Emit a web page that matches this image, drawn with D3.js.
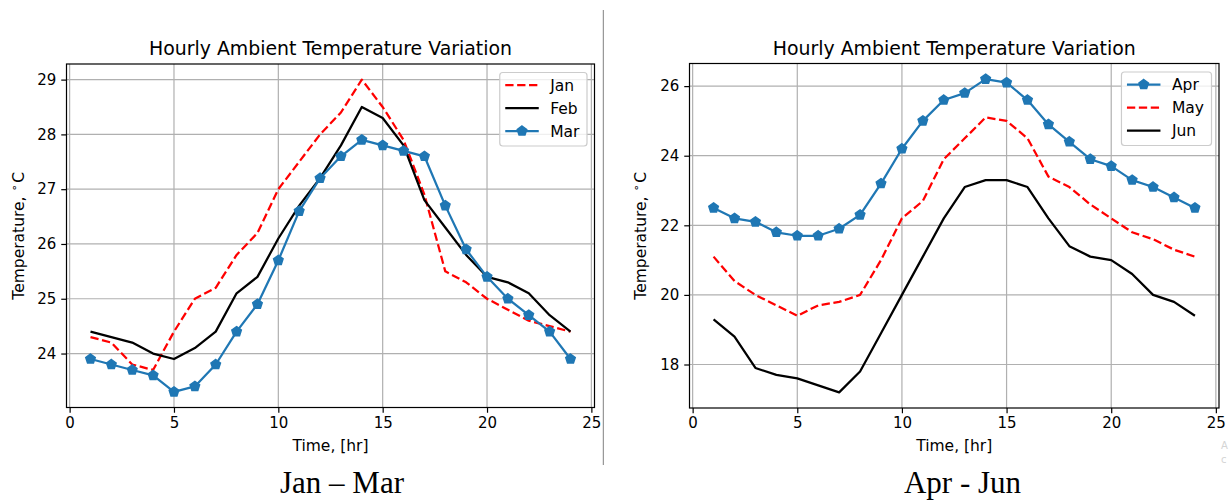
<!DOCTYPE html>
<html>
<head>
<meta charset="utf-8">
<script src="https://cdn.jsdelivr.net/npm/d3@7"></script>
<style>
  html, body { margin: 0; padding: 0; background: #ffffff; }
  svg { display: block; }
</style>
</head>
<body>
<svg id="chart" width="1230" height="502"></svg>
<script>
// ---------------- DATA ----------------
const hours = d3.range(1, 25);
const jan = [24.3, 24.2, 23.8, 23.7, 24.4, 25.0, 25.2, 25.8, 26.2, 27.0, 27.5, 28.0, 28.4, 29.0, 28.5, 27.9, 26.9, 25.5, 25.3, 25.0, 24.8, 24.6, 24.5, 24.4];
const feb = [24.4, 24.3, 24.2, 24.0, 23.9, 24.1, 24.4, 25.1, 25.4, 26.1, 26.7, 27.2, 27.8, 28.5, 28.3, 27.8, 26.8, 26.3, 25.8, 25.4, 25.3, 25.1, 24.7, 24.4];
const mar = [23.9, 23.8, 23.7, 23.6, 23.3, 23.4, 23.8, 24.4, 24.9, 25.7, 26.6, 27.2, 27.6, 27.9, 27.8, 27.7, 27.6, 26.7, 25.9, 25.4, 25.0, 24.7, 24.4, 23.9];
const apr = [22.5, 22.2, 22.1, 21.8, 21.7, 21.7, 21.9, 22.3, 23.2, 24.2, 25.0, 25.6, 25.8, 26.2, 26.1, 25.6, 24.9, 24.4, 23.9, 23.7, 23.3, 23.1, 22.8, 22.5];
const may = [21.1, 20.4, 20.0, 19.7, 19.4, 19.7, 19.8, 20.0, 21.0, 22.2, 22.7, 23.9, 24.5, 25.1, 25.0, 24.5, 23.4, 23.1, 22.6, 22.2, 21.8, 21.6, 21.3, 21.1];
const jun = [19.3, 18.8, 17.9, 17.7, 17.6, 17.4, 17.2, 17.8, 18.9, 20.0, 21.1, 22.2, 23.1, 23.3, 23.3, 23.1, 22.2, 21.4, 21.1, 21.0, 20.6, 20.0, 19.8, 19.4];

const xTicks = [0, 5, 10, 15, 20, 25];
const leftYTicks = [24, 25, 26, 27, 28, 29];
const rightYTicks = [18, 20, 22, 24, 26];
const chartTitle = "Hourly Ambient Temperature Variation";
const xLabel = "Time, [hr]";
const leftCaption = "Jan \u2013 Mar";
const rightCaption = "Apr - Jun";
const leftSeries = [
  { name: "Jan", values: jan, style: "dashed" },
  { name: "Feb", values: feb, style: "solid" },
  { name: "Mar", values: mar, style: "marker" }
];
const rightSeries = [
  { name: "Apr", values: apr, style: "marker" },
  { name: "May", values: may, style: "dashed" },
  { name: "Jun", values: jun, style: "solid" }
];

// ---------------- STYLE ----------------
const FONT = "'DejaVu Sans', sans-serif";
const TICK_FS = 15;
const LABEL_FS = 15.5;
const TITLE_FS = 18.9;
const LW = 2.25;
const MR = 5.0;
const BLUE = "#1f77b4";
const styleMap = {
  dashed: { color: "#ff0000", dash: "8.3,3.6", marker: false },
  solid:  { color: "#000000", dash: null, marker: false },
  marker: { color: BLUE, dash: null, marker: true }
};

const svg = d3.select("#chart");

function pentagonPath(cx, cy, r) {
  const pts = d3.range(5).map(k => {
    const a = -Math.PI / 2 + k * 2 * Math.PI / 5;
    return [cx + r * Math.cos(a), cy + r * Math.sin(a)];
  });
  return "M" + pts.map(p => p.join(",")).join("L") + "Z";
}

function drawPanel(cfg) {
  const g = svg.append("g");
  const x = d3.scaleLinear().domain(cfg.xDomain).range([cfg.left, cfg.right]);
  const y = d3.scaleLinear().domain(cfg.yDomain).range([cfg.bottom, cfg.top]);

  // grid
  g.append("g").selectAll("line.vx").data(xTicks).join("line")
    .attr("x1", d => x(d)).attr("x2", d => x(d))
    .attr("y1", cfg.top).attr("y2", cfg.bottom)
    .attr("stroke", "#b0b0b0").attr("stroke-width", 1.2);
  g.append("g").selectAll("line.hy").data(cfg.yTicks).join("line")
    .attr("x1", cfg.left).attr("x2", cfg.right)
    .attr("y1", d => y(d)).attr("y2", d => y(d))
    .attr("stroke", "#b0b0b0").attr("stroke-width", 1.2);

  // series
  const line = d3.line().x((d, i) => x(hours[i])).y(d => y(d));
  cfg.series.forEach(s => {
    const st = styleMap[s.style];
    g.append("path")
      .attr("d", line(s.values))
      .attr("fill", "none")
      .attr("stroke", st.color)
      .attr("stroke-width", LW)
      .attr("stroke-linejoin", "round")
      .attr("stroke-dasharray", st.dash);
    if (st.marker) {
      g.append("g").selectAll("path").data(s.values).join("path")
        .attr("d", (d, i) => pentagonPath(x(hours[i]), y(d), MR))
        .attr("fill", st.color)
        .attr("stroke", st.color)
        .attr("stroke-width", 1.5)
        .attr("stroke-linejoin", "miter");
    }
  });

  // axes via d3
  const xAxis = d3.axisBottom(x).tickValues(xTicks).tickSize(5.25).tickPadding(4.5).tickFormat(d3.format("d"));
  const yAxis = d3.axisLeft(y).tickValues(cfg.yTicks).tickSize(5.25).tickPadding(5).tickFormat(d3.format("d"));
  const gx = g.append("g").attr("transform", `translate(0,${cfg.bottom})`).call(xAxis);
  const gy = g.append("g").attr("transform", `translate(${cfg.left},0)`).call(yAxis);
  [gx, gy].forEach(ax => {
    ax.select(".domain").remove();
    ax.selectAll(".tick line").attr("stroke", "#000").attr("stroke-width", 1.2);
    ax.selectAll(".tick text").attr("fill", "#000")
      .style("font-family", FONT).style("font-size", TICK_FS + "px");
  });

  // spines
  g.append("rect")
    .attr("x", cfg.left).attr("y", cfg.top)
    .attr("width", cfg.right - cfg.left).attr("height", cfg.bottom - cfg.top)
    .attr("fill", "none").attr("stroke", "#000").attr("stroke-width", 1.2);

  // title
  g.append("text")
    .attr("x", (cfg.left + cfg.right) / 2).attr("y", 55)
    .attr("text-anchor", "middle")
    .style("font-family", FONT).style("font-size", TITLE_FS + "px")
    .attr("fill", "#000")
    .text(chartTitle);

  // x label
  g.append("text")
    .attr("x", (cfg.left + cfg.right) / 2).attr("y", 451)
    .attr("text-anchor", "middle")
    .style("font-family", FONT).style("font-size", LABEL_FS + "px")
    .attr("fill", "#000")
    .text(xLabel);

  // y label
  const yl = g.append("text")
    .attr("transform", `translate(${cfg.yLabelX},${(cfg.top + cfg.bottom) / 2}) rotate(-90)`)
    .attr("text-anchor", "middle")
    .style("font-family", FONT).style("font-size", LABEL_FS + "px")
    .attr("fill", "#000");
  yl.append("tspan").text("Temperature, ");
  yl.append("tspan").attr("dy", -6).style("font-size", "11px").text("\u2218");
  yl.append("tspan").attr("dy", 6).attr("dx", 2).text("C");

  // legend
  const lg = g.append("g");
  const rowY = [cfg.top + 21, cfg.top + 44, cfg.top + 67];
  const texts = [];
  const tmp = lg.append("g");
  cfg.series.forEach((s, i) => {
    texts.push(tmp.append("text")
      .style("font-family", FONT).style("font-size", LABEL_FS + "px")
      .attr("fill", "#000").text(s.name));
  });
  const maxW = d3.max(texts, t => t.node().getComputedTextLength());
  const boxW = 5.5 + 33.5 + 11.5 + maxW + 7.5;
  const boxR = cfg.right - 7.5;
  const boxL = boxR - boxW;
  lg.insert("rect", ":first-child")
    .attr("x", boxL).attr("y", cfg.top + 8.5)
    .attr("width", boxW).attr("height", 73.5)
    .attr("rx", 3).attr("ry", 3)
    .attr("fill", "#ffffff").attr("fill-opacity", 0.8)
    .attr("stroke", "#cccccc").attr("stroke-width", 1.2);
  cfg.series.forEach((s, i) => {
    const st = styleMap[s.style];
    const hx0 = boxL + 5.5, hx1 = boxL + 39;
    lg.append("line")
      .attr("x1", hx0).attr("x2", hx1)
      .attr("y1", rowY[i]).attr("y2", rowY[i])
      .attr("stroke", st.color).attr("stroke-width", LW)
      .attr("stroke-dasharray", st.dash);
    if (st.marker) {
      lg.append("path")
        .attr("d", pentagonPath((hx0 + hx1) / 2, rowY[i], MR))
        .attr("fill", st.color).attr("stroke", st.color).attr("stroke-width", 1.5);
    }
    texts[i].attr("x", boxL + 50.5).attr("y", rowY[i] + 5.5);
    lg.node().appendChild(texts[i].node());
  });
  tmp.remove();

  // caption
  g.append("text")
    .attr("x", cfg.captionX).attr("y", 493)
    .attr("text-anchor", "middle")
    .style("font-family", "'Liberation Serif', 'Times New Roman', serif")
    .style("font-size", "31px")
    .attr("fill", "#000")
    .text(cfg.caption);
}

drawPanel({
  left: 66.5, right: 594.5, top: 64, bottom: 407.5,
  xDomain: [-0.15, 25.15], yDomain: [23.015, 29.285],
  yTicks: leftYTicks, series: leftSeries,
  yLabelX: 23.5, caption: leftCaption, captionX: 342
});

drawPanel({
  left: 689.5, right: 1219, top: 63.5, bottom: 408,
  xDomain: [-0.15, 25.15], yDomain: [16.75, 26.65],
  yTicks: rightYTicks, series: rightSeries,
  yLabelX: 646, caption: rightCaption, captionX: 962.5
});

// divider between the two panels
svg.append("line")
  .attr("x1", 603.3).attr("x2", 603.3).attr("y1", 10).attr("y2", 465)
  .attr("stroke", "#808080").attr("stroke-width", 1);

// faint screen artifacts near right edge
svg.append("text").attr("x", 1221).attr("y", 449)
  .style("font-family", FONT).style("font-size", "10px").attr("fill", "#d4d4d4").text("A");
svg.append("text").attr("x", 1221).attr("y", 463)
  .style("font-family", FONT).style("font-size", "10px").attr("fill", "#d4d4d4").text("c");
</script>
</body>
</html>
